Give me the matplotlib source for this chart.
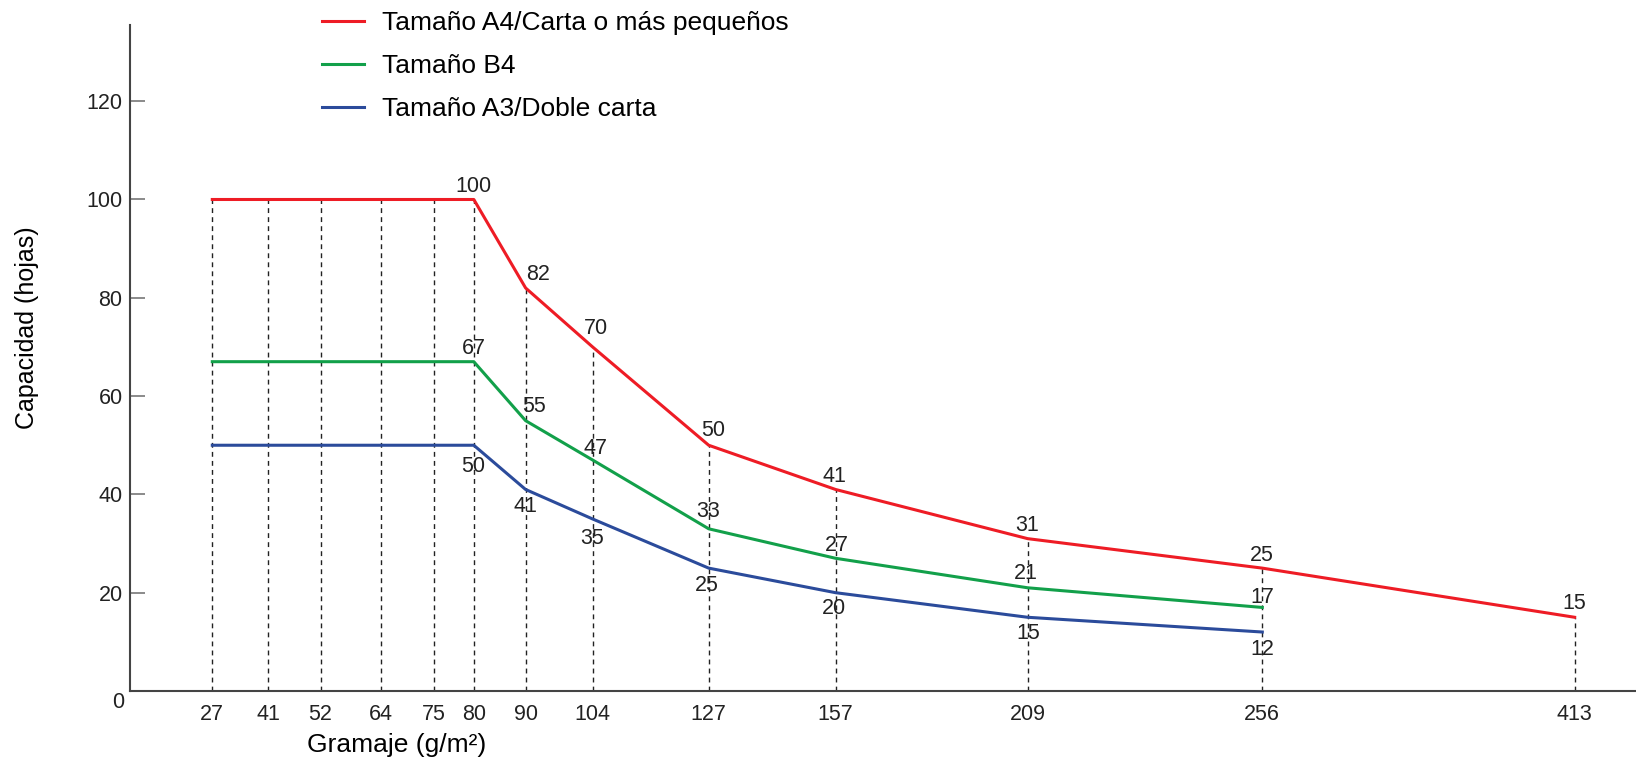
import numpy as np
import matplotlib
matplotlib.use("Agg")
import matplotlib.pyplot as plt

plt.rcParams.update({
    "font.family": ["Liberation Sans", "DejaVu Sans"],
    "axes.spines.top": False,
    "axes.spines.right": False,
})

# ── data ────────────────────────────────────────────────────
gramaje = [27, 41, 52, 64, 75, 80, 90, 104, 127, 157, 209, 256, 413]
cap_a4 = [100, 100, 100, 100, 100, 100, 82, 70, 50, 41, 31, 25, 15]
cap_b4 = [67, 67, 67, 67, 67, 67, 55, 47, 33, 27, 21, 17]
cap_a3 = [50, 50, 50, 50, 50, 50, 41, 35, 25, 20, 15, 12]

series_names = [
    "Tamaño A4/Carta o más pequeños",
    "Tamaño B4",
    "Tamaño A3/Doble carta",
]
y_ticks = [20, 40, 60, 80, 100, 120]

# ── layout of the (non-linear) x axis, in reference pixels ──
AXIS_GSM = [0] + gramaje + [440]
AXIS_PX = [129.5, 212.3, 268.3, 320.6, 380.8, 433.6, 473.8, 525.6,
           592.6, 708.7, 835.6, 1027.6, 1262.3, 1574.6, 1636]

def fwd(x):
    return np.interp(x, AXIS_GSM, AXIS_PX)

def inv(p):
    return np.interp(p, AXIS_PX, AXIS_GSM)

COLORS = ["#EE1C25", "#12A04A", "#2B4B9B"]
FIRST_LABEL = 5   # values are printed from 80 g/m² onwards

# label offsets (pixels, x right / y up) for each printed value
OFF_A4 = [(0, 13), (12, 13), (3, 18), (4, 15), (-1, 13), (0, 13), (0, 13), (0, 14)]
OFF_B4 = [(0, 13), (8, 14), (3, 11), (-1, 17), (1, 13), (-2, 14), (0, 10)]
OFF_A3 = [(-1, -21), (0, -17), (0, -20), (-2, -17), (-2, -16), (1, -16), (0, -17)]

W, H = 1636, 760
fig = plt.figure(figsize=(W / 100, H / 100), dpi=100)
ax = fig.add_axes([129.5 / W, 1 - 691 / H, 1 - 129.5 / W, (691 - 25) / H])
ax.set_xscale("function", functions=(fwd, inv))
ax.set_xlim(0, 440)
ax.set_ylim(0, 135.5)

# dashed drop lines from the top curve
ax.vlines(gramaje, 0, cap_a4, colors="#222222", linewidth=1.0,
          linestyles=(0, (3.5, 3)), zorder=1)

all_caps = [cap_a4, cap_b4, cap_a3]
all_offs = [OFF_A4, OFF_B4, OFF_A3]
for caps, name, color, offs in zip(all_caps, series_names, COLORS, all_offs):
    xs = gramaje[:len(caps)]
    ax.plot(xs, caps, color=color, linewidth=2.2, label=name, zorder=3)
    for (x, y), (dx, dy) in zip(list(zip(xs, caps))[FIRST_LABEL:], offs):
        ax.annotate(str(y), xy=(x, y), xytext=(dx, dy), textcoords="offset pixels",
                    ha="center", va="center", fontsize=15.5, color="#222222")

# axes styling
for side in ["left", "bottom"]:
    ax.spines[side].set_color("#444444")
    ax.spines[side].set_linewidth(1.5)

ax.set_xticks(gramaje)
ax.set_xticklabels([str(g) for g in gramaje])
ax.xaxis.set_minor_locator(matplotlib.ticker.NullLocator())
ax.tick_params(axis="x", length=0, pad=9, labelsize=15.5, labelcolor="#222222")
ax.set_yticks(y_ticks)
ax.tick_params(axis="y", direction="in", length=11, width=1.2, color="#777777",
               pad=5, labelsize=15.5, labelcolor="#222222")
ax.annotate("0", xy=(0, 0), xytext=(-11, -12), textcoords="offset pixels",
            ha="center", va="center", fontsize=15.5, color="#222222",
            annotation_clip=False)

ax.set_xlabel("Gramaje (g/m²)", fontsize=19)
ax.xaxis.set_label_coords((397 - 129.5) / (W - 129.5), -(745 - 691) / (691 - 25))
ax.xaxis.label.set_va("center")
ax.set_ylabel("Capacidad (hojas)", fontsize=18)
ax.yaxis.set_label_coords(-(129.5 - 27) / (W - 129.5), (691 - 327.5) / (691 - 25))
ax.yaxis.label.set_va("center")

ax.legend(loc="upper left", bbox_to_anchor=(321.7 / W, 1 - 11 / H),
          bbox_transform=fig.transFigure, frameon=False, fontsize=19,
          handlelength=1.62, handletextpad=0.66, labelspacing=0.72,
          borderpad=0, borderaxespad=0)

plt.savefig("out.png", dpi=100)
